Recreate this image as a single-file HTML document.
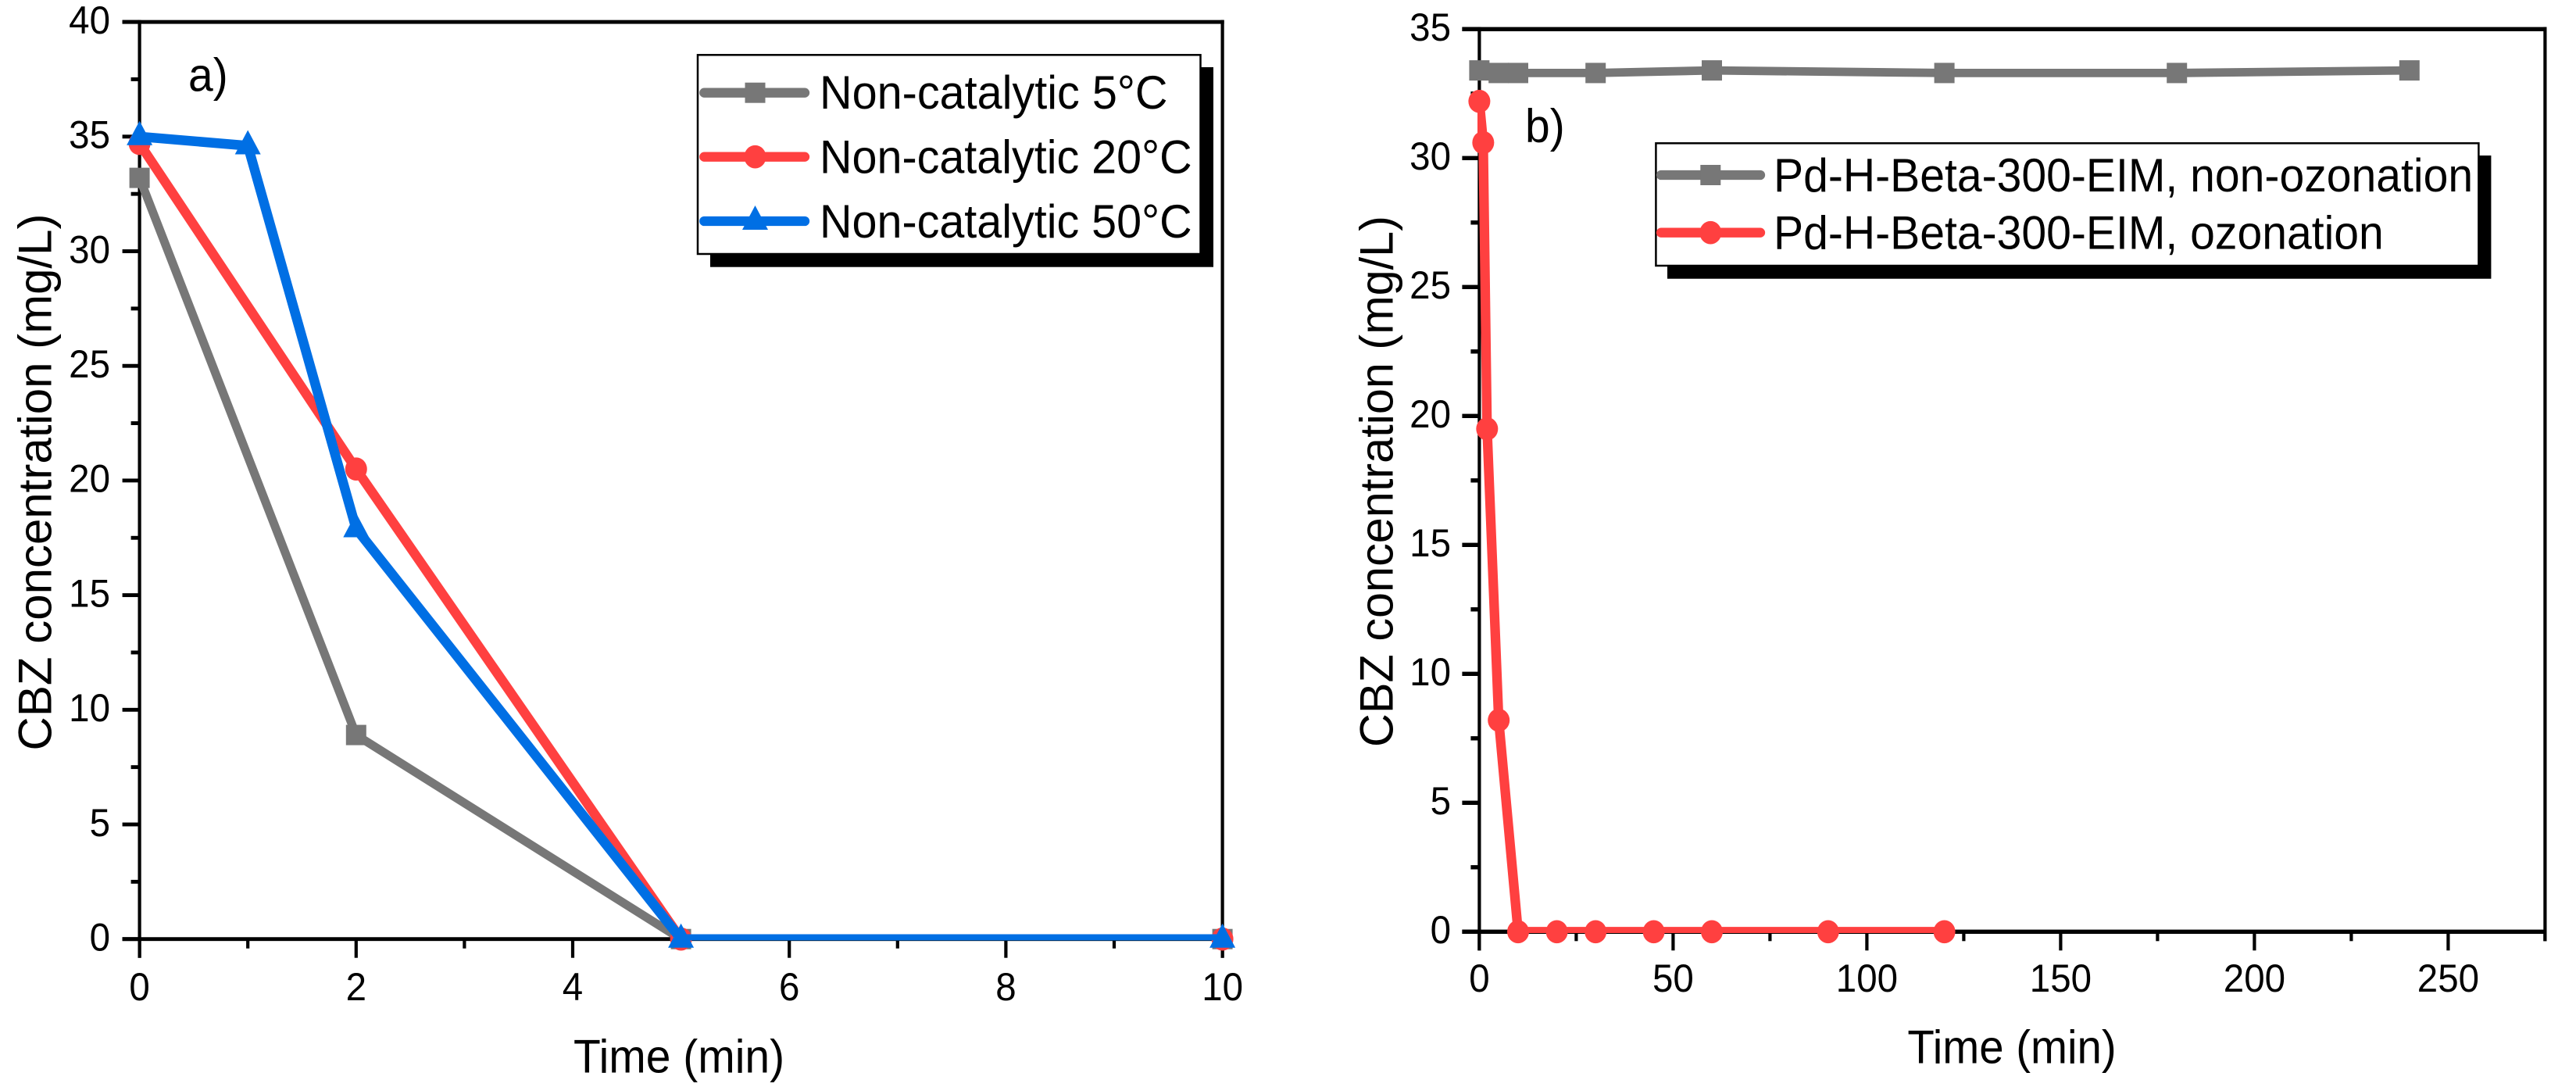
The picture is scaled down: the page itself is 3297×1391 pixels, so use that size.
<!DOCTYPE html>
<html lang="en">
<head>
<meta charset="utf-8">
<title>CBZ concentration vs time</title>
<style>
html,body{margin:0;padding:0;background:#fff;width:3297px;height:1391px;overflow:hidden}
svg{display:block}
text{font-family:"Liberation Sans",Arial,sans-serif;fill:#000}
</style>
</head>
<body>
<svg id="figure" xmlns="http://www.w3.org/2000/svg" width="3297" height="1391" viewBox="0 0 3297 1391">
  <rect x="0" y="0" width="3297" height="1391" fill="#fff"/>
  <defs>
    <clipPath id="clip-a"><rect x="176" y="27" width="1391" height="1176.5"/></clipPath>
    <clipPath id="clip-b"><rect x="1891" y="35" width="1370" height="1159"/></clipPath>
  </defs>
  <g id="panel-a"></g>
  <g id="panel-b"></g>

  <text transform="translate(241,116.7) scale(.95,1)" font-size="60">a)</text>
  <text transform="translate(1952,181.7) scale(.95,1)" font-size="60">b)</text>
  <text transform="translate(869,1372.7) scale(.95,1)" font-size="60" text-anchor="middle">Time (min)</text>
  <text transform="translate(2575,1360.7) scale(.94,1)" font-size="60" text-anchor="middle">Time (min)</text>
  <text transform="translate(65.7,617) rotate(-90)" font-size="60" text-anchor="middle">CBZ concentration (mg/L)</text>
  <text transform="translate(1782.7,616) rotate(-90) scale(.99,1)" font-size="60" text-anchor="middle">CBZ concentration (mg/L)</text>

  <g id="legend-a">
    <rect x="909" y="86" width="644" height="255.7" fill="#000"/>
    <rect x="893" y="70.3" width="643.5" height="254.7" fill="#fff" stroke="#000" stroke-width="2.5"/>
    <text transform="translate(1049,139) scale(.96,1)" font-size="60">Non-catalytic 5°C</text>
    <text transform="translate(1049,221.7) scale(.958,1)" font-size="60">Non-catalytic 20°C</text>
    <text transform="translate(1049,304) scale(.958,1)" font-size="60">Non-catalytic 50°C</text>
  </g>
  <g id="legend-b">
    <rect x="2134" y="199" width="1054.4" height="157.7" fill="#000"/>
    <rect x="2119.4" y="183.3" width="1053" height="156.7" fill="#fff" stroke="#000" stroke-width="2.5"/>
    <text transform="translate(2270,245) scale(.952,1)" font-size="60">Pd-H-Beta-300-EIM, non-ozonation</text>
    <text transform="translate(2270,318.3) scale(.952,1)" font-size="60">Pd-H-Beta-300-EIM, ozonation</text>
  </g>
</svg>
<script>
// ---- Panel a data ----
const aXTicks = [0, 2, 4, 6, 8, 10];
const aXMinorTicks = [1, 3, 5, 7, 9];
const aYTicks = [0, 5, 10, 15, 20, 25, 30, 35, 40];
const aYMinorTicks = [2.5, 7.5, 12.5, 17.5, 22.5, 27.5, 32.5, 37.5];
const aTime5C = [0, 2, 5, 10];
const aConc5C = [33.2, 8.9, 0, 0];
const aTime20C = [0, 2, 5, 10];
const aConc20C = [34.7, 20.5, 0, 0];
const aTime50C = [0, 1, 2, 5, 10];
const aConc50C = [35.0, 34.6, 17.9, 0, 0];

// ---- Panel b data ----
const bXTicks = [0, 50, 100, 150, 200, 250];
const bXMinorTicks = [25, 75, 125, 175, 225, 275];
const bYTicks = [0, 5, 10, 15, 20, 25, 30, 35];
const bYMinorTicks = [2.5, 7.5, 12.5, 17.5, 22.5, 27.5, 32.5];
const bTimeNonOzonation = [0, 5, 10, 30, 60, 120, 180, 240];
const bConcNonOzonation = [33.4, 33.3, 33.3, 33.3, 33.4, 33.3, 33.3, 33.4];
const bTimeOzonation = [0, 1, 2, 5, 10, 20, 30, 45, 60, 90, 120];
const bConcOzonation = [32.2, 30.6, 19.5, 8.2, 0, 0, 0, 0, 0, 0, 0];

const GREY = '#777777', RED = '#ff4040', BLUE = '#006fe4';
const NS = 'http://www.w3.org/2000/svg';

function mk(parent, tag, attrs) {
  const el = document.createElementNS(NS, tag);
  for (const k in attrs) el.setAttribute(k, attrs[k]);
  parent.appendChild(el);
  return el;
}

// axis functions
const xA = v => 178.6 + v * 138.6;
const yA = v => 1201.7 - v * 29.34;
const xB = v => 1893.4 + v * 4.96;
const yB = v => 1192.3 - v * 33;

function marker(parent, kind, cx, cy, color, name) {
  let el;
  if (kind === 'square') {
    el = mk(parent, 'rect', {x: cx - 13, y: cy - 13, width: 26, height: 26, fill: color});
  } else if (kind === 'circle') {
    el = mk(parent, 'ellipse', {cx: cx, cy: cy, rx: 14, ry: 14.8, fill: color});
  } else {
    el = mk(parent, 'polygon', {points: (cx) + ',' + (cy - 20) + ' ' + (cx + 16.5) + ',' + (cy + 11) + ' ' + (cx - 16.5) + ',' + (cy + 11), fill: color});
  }
  
  
  return el;
}

function drawAxes(g, opt) {
  const X = opt.x, Y = opt.y;
  const x0 = X(opt.xMin), x1 = X(opt.xMax), y0 = Y(0), yT = Y(opt.yMax);
  const axisW = 4.2, hW = opt.hW;

  const frame = [
    ['left-axis', x0 - axisW / 2, yT - hW / 2, axisW, y0 + 24 - yT + hW / 2],
    ['right-axis', x1 - axisW / 2, yT - hW / 2, axisW, y0 + opt.rightTail - yT + hW / 2],
    ['bottom-axis', x0 - 22, y0 - hW / 2, x1 - x0 + 22 + axisW / 2, hW],
    ['top-axis', x0 - 22, yT - hW / 2, x1 - x0 + 22 + axisW / 2, hW]
  ];
  frame.forEach(f => {
    const r = mk(g, 'rect', {x: f[1], y: f[2], width: f[3], height: f[4], fill: '#000'});
    
    
  });

  opt.yTicks.forEach(v => {
    const r = mk(g, 'rect', {x: x0 - 22, y: Y(v) - hW / 2, width: 22, height: hW, fill: '#000'});
    
    
    const t = mk(g, 'text', {transform: 'translate(' + opt.yLabelX + ',' + (Y(v) + 14.8) + ') scale(.95,1)', 'font-size': 50, 'text-anchor': 'end'});
    
    
    t.textContent = v;
  });
  opt.yMinor.forEach(v => {
    const r = mk(g, 'rect', {x: x0 - 11, y: Y(v) - hW / 2, width: 11, height: hW, fill: '#000'});
    
    
  });
  opt.xTicks.forEach(v => {
    const r = mk(g, 'rect', {x: X(v) - axisW / 2, y: y0, width: axisW, height: 24, fill: '#000'});
    
    
    const t = mk(g, 'text', {transform: 'translate(' + X(v) + ',' + opt.xLabelY + ') scale(.95,1)', 'font-size': 50, 'text-anchor': 'middle'});
    
    
    t.textContent = v;
  });
  opt.xMinor.forEach(v => {
    const r = mk(g, 'rect', {x: X(v) - axisW / 2, y: y0, width: axisW, height: 12, fill: '#000'});
    
    
  });
}

function drawSeries(g, opt, s) {
  const sg = mk(g, 'g', {});
  
  
  const pts = s.xs.map((x, i) => opt.x(x) + ',' + opt.y(s.ys[i])).join(' ');
  const line = mk(sg, 'polyline', {points: pts, fill: 'none', stroke: s.color, 'stroke-width': s.w, 'stroke-linejoin': 'round', 'clip-path': 'url(#' + opt.clip + ')'});
  
  
  s.xs.forEach((x, i) => {
    marker(sg, s.kind, opt.x(x), opt.y(s.ys[i]), s.color, s.name + '-point');
  });
}

function legendKey(parentId, x1, x2, mx, y, color, kind, name) {
  const g = document.getElementById(parentId);
  const gk = mk(g, 'g', {});
  
  
  mk(gk, 'line', {x1: x1 + 6, x2: x2 - 6, y1: y, y2: y, stroke: color, 'stroke-width': 12.3, 'stroke-linecap': 'round'});
  marker(gk, kind, mx, y, color, name + '-marker');
}

// Panel a
const optA = {
  id: 'panel-a', x: xA, y: yA, xMin: 0, xMax: 10, yMax: 40, hW: 4.9, rightTail: 24,
  yTicks: aYTicks, yMinor: aYMinorTicks, xTicks: aXTicks, xMinor: aXMinorTicks,
  yLabelX: 141, xLabelY: 1280, clip: 'clip-a'
};
const gA = document.getElementById('panel-a');
drawAxes(gA, optA);
drawSeries(gA, optA, {name: 'series-non-catalytic-5c', xs: aTime5C, ys: aConc5C, color: GREY, w: 11, kind: 'square'});
drawSeries(gA, optA, {name: 'series-non-catalytic-20c', xs: aTime20C, ys: aConc20C, color: RED, w: 12.3, kind: 'circle'});
drawSeries(gA, optA, {name: 'series-non-catalytic-50c', xs: aTime50C, ys: aConc50C, color: BLUE, w: 12.5, kind: 'triangle'});

// Panel b
const optB = {
  id: 'panel-b', x: xB, y: yB, xMin: 0, xMax: 275, yMax: 35, hW: 5.4, rightTail: 12,
  yTicks: bYTicks, yMinor: bYMinorTicks, xTicks: bXTicks, xMinor: bXMinorTicks,
  yLabelX: 1857, xLabelY: 1269, clip: 'clip-b'
};
const gB = document.getElementById('panel-b');
drawAxes(gB, optB);
drawSeries(gB, optB, {name: 'series-non-ozonation', xs: bTimeNonOzonation, ys: bConcNonOzonation, color: GREY, w: 10.8, kind: 'square'});
drawSeries(gB, optB, {name: 'series-ozonation', xs: bTimeOzonation, ys: bConcOzonation, color: RED, w: 12.3, kind: 'circle'});

// Legend keys
legendKey('legend-a', 895.3, 1036, 966.5, 118.7, GREY, 'square', 'legend-entry-5c');
legendKey('legend-a', 895.3, 1036, 966.5, 200.7, RED, 'circle', 'legend-entry-20c');
legendKey('legend-a', 895.3, 1036, 966.5, 283, BLUE, 'triangle', 'legend-entry-50c');
legendKey('legend-b', 2120, 2259, 2189.3, 224, GREY, 'square', 'legend-entry-non-ozonation');
legendKey('legend-b', 2120, 2259, 2189.3, 297.7, RED, 'circle', 'legend-entry-ozonation');
</script>
</body>
</html>
